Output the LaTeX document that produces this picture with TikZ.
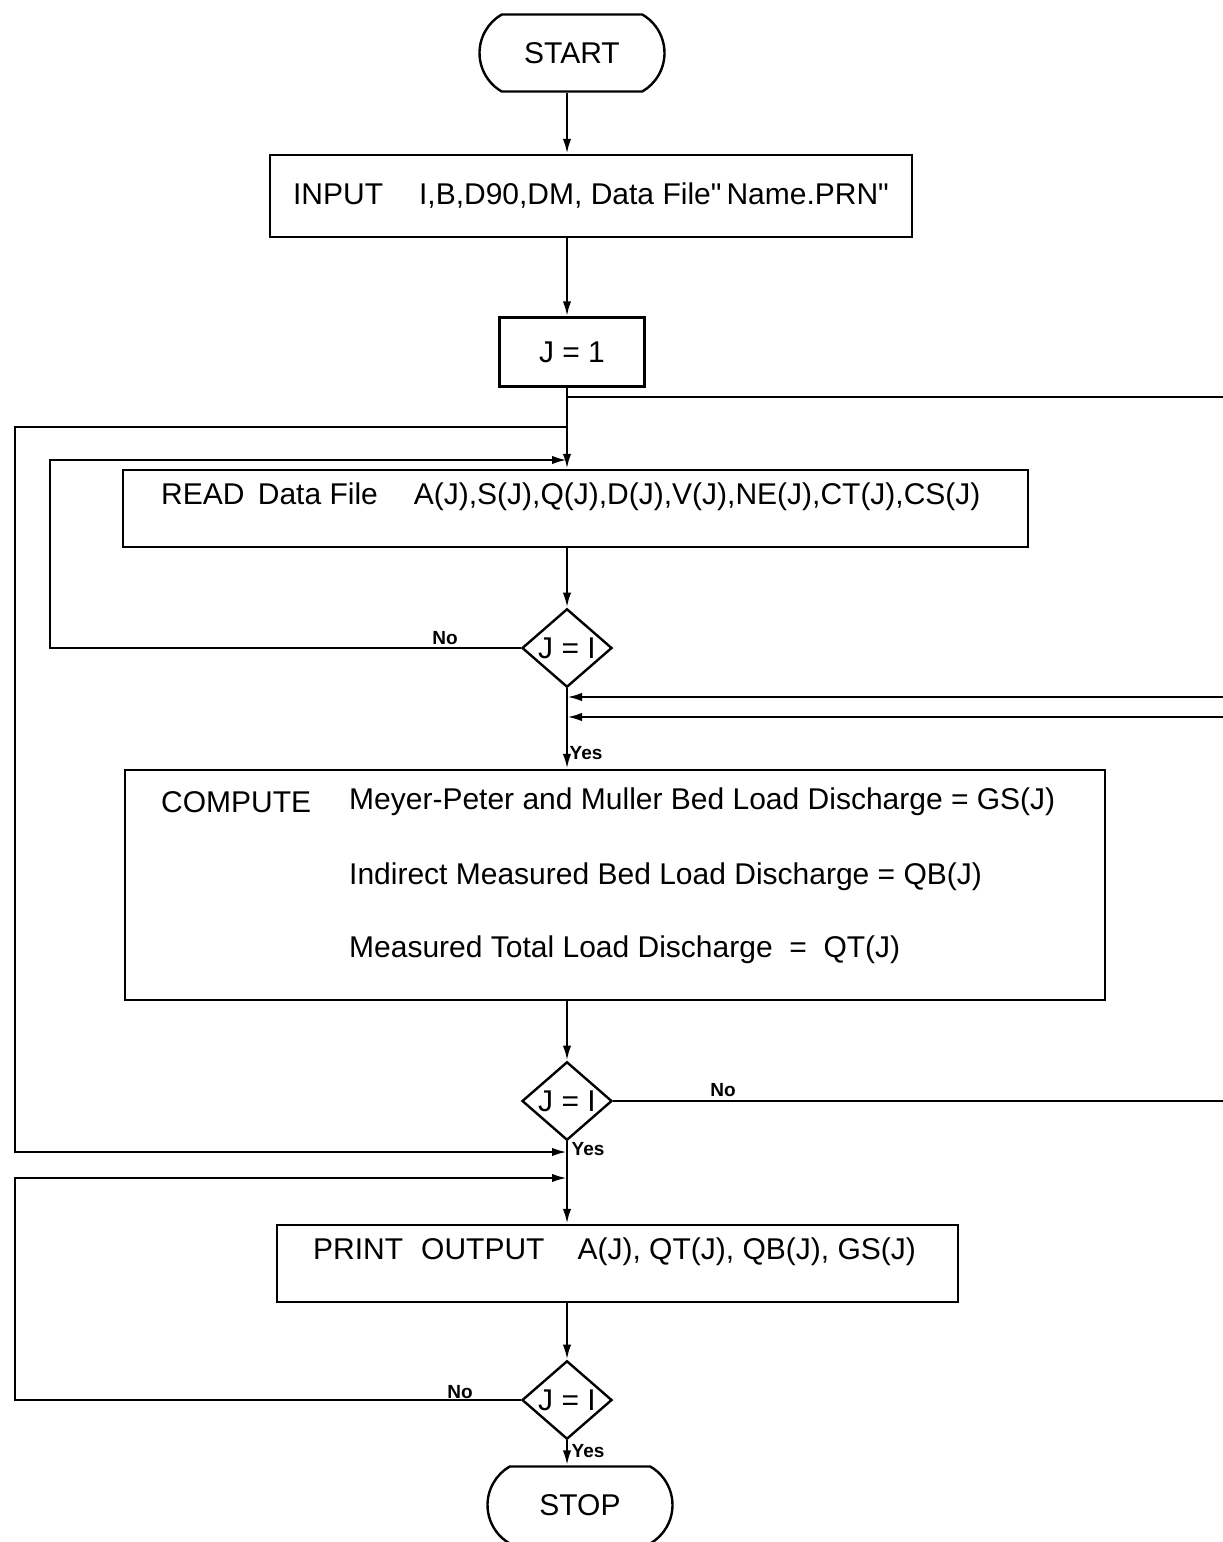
\documentclass[tikz,border=0pt]{standalone}
\usepackage{fontspec}
\setmainfont{Liberation Sans}
\usetikzlibrary{shapes.geometric, shapes.misc, arrows.meta}

\begin{document}
\begin{tikzpicture}[
    x=0.5pt, y=-0.5pt,
    >={Latex[length=7.5pt,width=4.2pt]},
    line width=1.2pt,
    every node/.style={font=\fontsize{15}{18}\selectfont},
    termbox/.style={draw, rounded rectangle, rounded rectangle arc length=120,
                    minimum width=92.5pt, minimum height=38.5pt, inner sep=0pt},
    procbox/.style={draw, rectangle, inner sep=0pt},
    decbox/.style={draw, diamond, inner sep=0pt, minimum width=45pt, minimum height=33pt},
    txt/.style={anchor=west, inner sep=0pt},
    ynlabel/.style={font=\fontsize{9.5}{10}\selectfont\bfseries, inner sep=0pt},
    arr/.style={->},
]
\useasboundingbox (0,0) rectangle (1222,1542);

% === Spine and loop rails ===
\coordinate (sp) at (567,0);
\coordinate (lout) at (15,0);
\coordinate (lin) at (50,0);
\coordinate (redge) at (1232,0);
\coordinate (redgeb) at (1240,0);

% === Main column ===
\node[termbox] (start) at (572,53) {START};
\node[procbox, minimum width=321pt, minimum height=41pt] (inp) at (591,196)
    {INPUT\hspace{1.2em}I,B,D90,DM, Data File\textquotedbl\,Name.PRN\textquotedbl};
\node[procbox, minimum width=72.5pt, minimum height=34.5pt] (j1) at (572,352) {J = 1};

\node[procbox, minimum width=452.5pt, minimum height=38.5pt] (rd) at (575.5,508.5) {};
\node[txt] (rdtxt) at (160,497)
    {READ\, Data File\hspace{1.2em}A(J),S(J),Q(J),D(J),V(J),NE(J),CT(J),CS(J)};

\node[decbox] (d1) at (567,648) {J = I};

\node[procbox, minimum width=490pt, minimum height=115pt] (cmp) at (615,885) {};
\node[txt] (cmptxt) at (160,802) {COMPUTE};
\node[txt] (gs) at (348,802) {Meyer-Peter and Muller Bed Load Discharge = GS(J)};
\node[txt] (qb) at (348,877) {Indirect Measured Bed Load Discharge = QB(J)};
\node[txt] (qt) at (348,950) {Measured Total Load Discharge \ = \ QT(J)};

\node[decbox] (d2) at (567,1101) {J = I};

\node[procbox, minimum width=340.5pt, minimum height=38.5pt] (prt) at (617.5,1263.5) {};
\node[txt] (prttxt) at (312,1252) {PRINT\hspace{0.6em}OUTPUT\hspace{1.1em}A(J), QT(J), QB(J), GS(J)};

\node[decbox] (d3) at (567,1400) {J = I};
\node[termbox] (stop) at (580,1505) {STOP};

\draw[arr] (start.south -| sp) -- (inp.north -| sp);
\draw[arr] (inp.south -| sp) -- (j1.north -| sp);
\draw[arr] (j1.south -| sp) -- (rd.north -| sp);
\draw[arr] (rd.south -| sp) -- (d1.north);
\draw[arr] (d1.south) -- (cmp.north -| sp);
\draw[arr] (cmp.south -| sp) -- (d2.north);
\draw[arr] (d2.south) -- (prt.north -| sp);
\draw[arr] (prt.south -| sp) -- (d3.north);
\draw[arr] (d3.south) -- (stop.north -| sp);

% === Junctions on the spine ===
\coordinate (rtop) at (567,397);
\coordinate (ltop) at (567,427);
\coordinate (lin1) at (567,460);
\coordinate (rin1) at (567,697);
\coordinate (rin2) at (567,717);
\coordinate (lbot1) at (567,1152);
\coordinate (lbot2) at (567,1178);

% === Loops ===
\draw[arr] (rtop) -- (rtop -| redge) -- (rin1 -| redge) -- (rin1);
\draw[arr] (d2.east) -- (d2.east -| redgeb) -- (rin2 -| redgeb) -- (rin2);
\draw[arr] (ltop) -- (ltop -| lout) -- (lbot1 -| lout) -- (lbot1);
\draw[arr] (d1.west) -- (d1.west -| lin) -- (lin1 -| lin) -- (lin1);
\draw[arr] (d3.west) -- (d3.west -| lout) -- (lbot2 -| lout) -- (lbot2);

% === Yes / No labels ===
\node[ynlabel] (no1) at (445,638) {No};
\node[ynlabel] (yes1) at (586,753) {Yes};
\node[ynlabel] (no2) at (723,1090) {No};
\node[ynlabel] (yes2) at (588,1149) {Yes};
\node[ynlabel] (no3) at (460,1392) {No};
\node[ynlabel] (yes3) at (588,1451) {Yes};

\end{tikzpicture}
\end{document}
